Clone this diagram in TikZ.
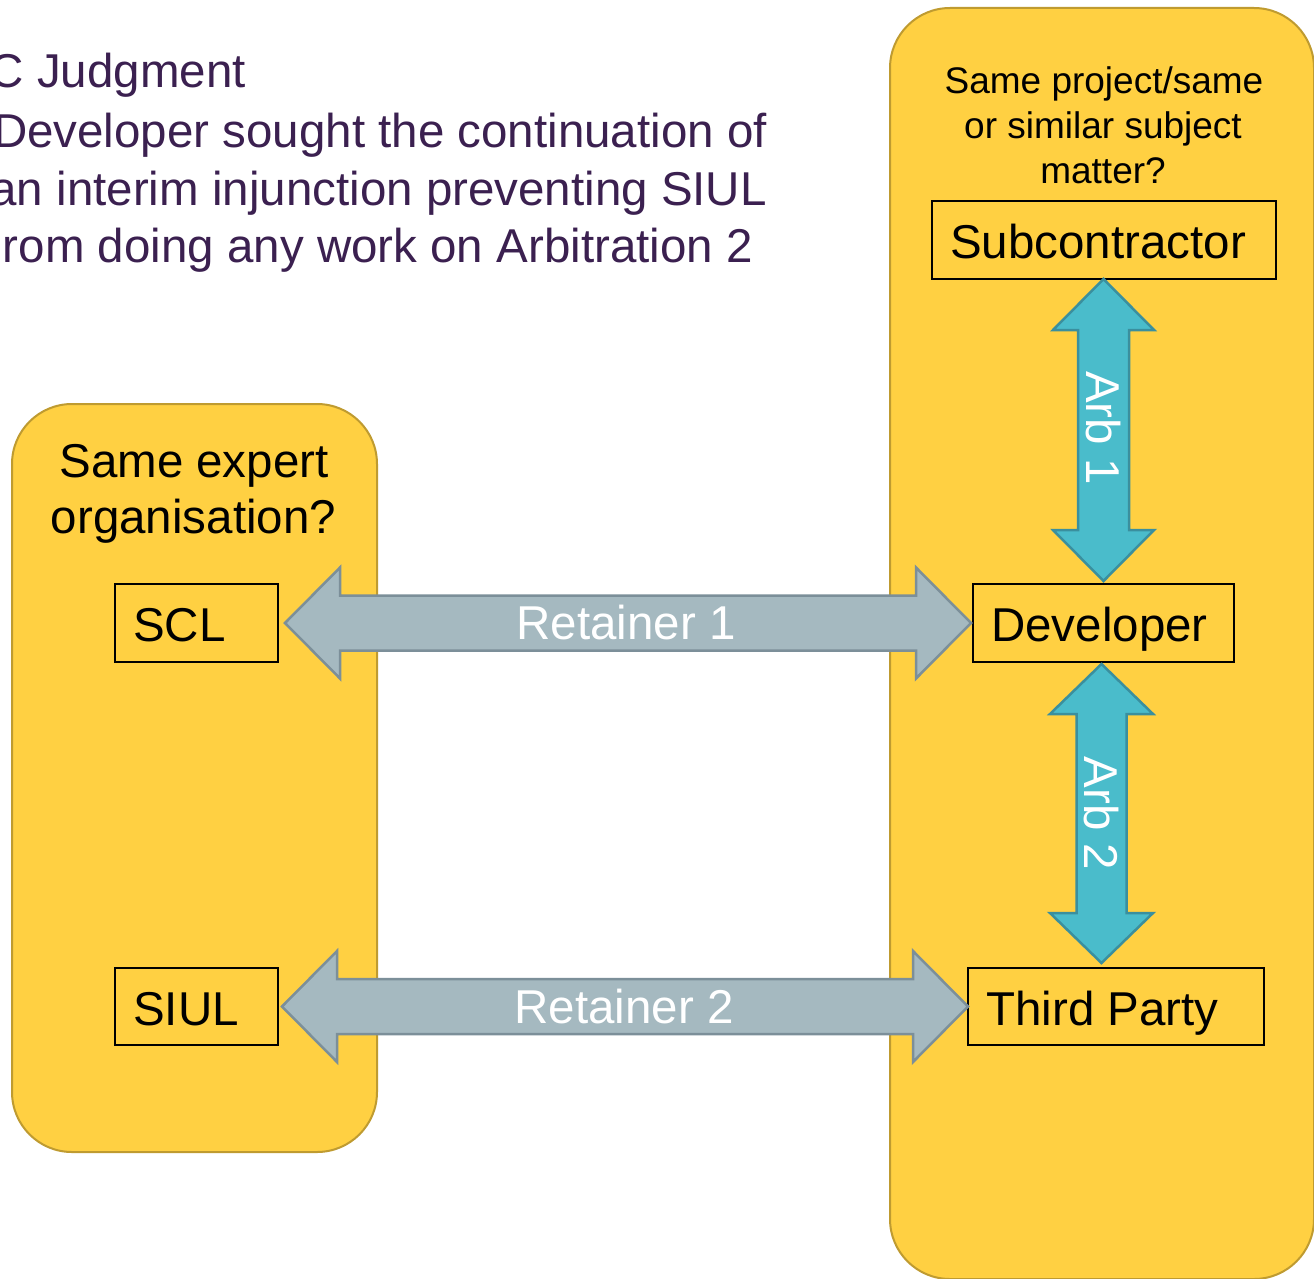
\documentclass[tikz,border=0pt]{standalone}
\usepackage{fontspec}
\setmainfont{Liberation Sans}
\usetikzlibrary{calc}
\definecolor{panelfill}{RGB}{255,208,66}
\definecolor{paneledge}{RGB}{191,155,48}
\definecolor{retfill}{RGB}{165,185,192}
\definecolor{retedge}{RGB}{124,143,153}
\definecolor{arbfill}{RGB}{74,188,203}
\definecolor{arbedge}{RGB}{58,143,158}
\definecolor{titlecol}{RGB}{59,32,80}
\begin{document}
\begin{tikzpicture}[x=1pt,y=-1pt,
  panel/.style={draw=paneledge, fill=panelfill, line width=2pt, rounded corners=60pt, rectangle, inner sep=0pt, anchor=north west},
  box/.style={draw=black, line width=2pt, rectangle, inner sep=0pt, anchor=north west, minimum height=78pt},
  lbl/.style={font=\fontsize{47.5}{57}\selectfont, text=black, inner sep=0pt},
  smalllbl/.style={font=\fontsize{37}{44.5}\selectfont, text=black, inner sep=0pt, anchor=base},
  titlelbl/.style={font=\fontsize{47.5}{58}\selectfont, text=titlecol, inner sep=0pt, anchor=base east},
  arrowtext/.style={font=\fontsize{47.5}{57}\selectfont, text=white, inner sep=0pt},
  retarrow/.style={draw=retedge, fill=retfill, line width=2.5pt, line join=miter},
  arbarrow/.style={draw=arbedge, fill=arbfill, line width=2.5pt, line join=miter}]
\useasboundingbox (0,0) rectangle (1314,1279);
\fill[white] (0,0) rectangle (1314,1279);

% title text (clipped at the left edge as in the reference)
\node[titlelbl] (t1) at (246,88) {C Judgment};
\node[titlelbl] (t2) at (767,147) {Developer sought the continuation of};
\node[titlelbl] (t3) at (767,205) {an interim injunction preventing SIUL};
\node[titlelbl] (t4) at (753,262) {rom doing any work on Arbitration 2};

% panels
\node[panel, minimum width=424pt, minimum height=1271pt] (rpanel) at (889,7) {};
\node[panel, minimum width=365pt, minimum height=748pt] (lpanel) at (11,403) {};

% panel captions
\node[smalllbl] (q1a) at (1104,94) {Same project/same};
\node[smalllbl] (q1b) at (1103,138.5) {or similar subject};
\node[smalllbl] (q1c) at (1103,183) {matter?};
\node[lbl, anchor=base] (q2a) at (194,477) {Same expert};
\node[lbl, anchor=base] (q2b) at (193.5,533) {organisation?};

% boxes
\node[box, minimum width=344pt] (sub) at (931,200) {};
\node[box, minimum width=261pt] (dev) at (972,583) {};
\node[box, minimum width=163pt] (scl) at (114,583) {};
\node[box, minimum width=163pt, minimum height=77pt] (siul) at (114,967) {};
\node[box, minimum width=296pt, minimum height=77pt] (tp) at (967,967) {};

\node[lbl, anchor=base west] (subl) at ($(sub.west)+(19,18.5)$) {Subcontractor};
\node[lbl, anchor=base west] (devl) at ($(dev.west)+(19,18.5)$) {Developer};
\node[lbl, anchor=base west] (scll) at ($(scl.west)+(19,18.5)$) {SCL};
\node[lbl, anchor=base west] (siull) at ($(siul.west)+(19,18.5)$) {SIUL};
\node[lbl, anchor=base west] (tpl) at ($(tp.west)+(19,18.5)$) {Third Party};

% Retainer 1
\coordinate (r1a) at ($(scl.east)+(6,0)$);
\coordinate (r1b) at ($(dev.west)+(-1,0)$);
\draw[retarrow] (r1a) -- ++(55,-55.5) -- ++(0,28) -- ($(r1b)+(-55,-27.5)$) -- ++(0,-28) -- (r1b)
  -- ++(-55,55.5) -- ++(0,-28) -- ($(r1a)+(55,27.5)$) -- ++(0,28) -- cycle;
\node[arrowtext] (r1t) at ($(r1a)!0.5!(r1b)+(-2,0)$) {Retainer 1};

% Retainer 2
\coordinate (r2a) at ($(siul.east)+(3,0)$);
\coordinate (r2b) at ($(tp.west)+(1,0)$);
\draw[retarrow] (r2a) -- ++(55,-55.5) -- ++(0,28) -- ($(r2b)+(-55,-27.5)$) -- ++(0,-28) -- (r2b)
  -- ++(-55,55.5) -- ++(0,-28) -- ($(r2a)+(55,27.5)$) -- ++(0,28) -- cycle;
\node[arrowtext] (r2t) at ($(r2a)!0.5!(r2b)+(-1,0)$) {Retainer 2};

% Arb 1
\coordinate (a1a) at ($(sub.south)+(-0.5,-1)$);
\coordinate (a1b) at ($(dev.north)+(0,-2)$);
\draw[arbarrow] (a1a) -- ++(50.5,51) -- ++(-25,0) -- ($(a1b)+(25.5,-51)$) -- ++(25,0) -- (a1b)
  -- ++(-50.5,-51) -- ++(25,0) -- ($(a1a)+(-25.5,51)$) -- ++(-25,0) -- cycle;
\node[arrowtext, rotate=-90] (a1t) at ($(a1a)!0.5!(a1b)+(0,-2)$) {Arb 1};

% Arb 2
\coordinate (a2a) at ($(dev.south)+(-2,1)$);
\coordinate (a2x) at (a2a |- tp.north);
\coordinate (a2b) at ($(a2x)+(0,-4)$);
\draw[arbarrow] (a2a) -- ++(51.5,50) -- ++(-26.5,0) -- ($(a2b)+(25,-50)$) -- ++(26.5,0) -- (a2b)
  -- ++(-51.5,-50) -- ++(26.5,0) -- ($(a2a)+(-25,50)$) -- ++(-26.5,0) -- cycle;
\node[arrowtext, rotate=-90] (a2t) at ($(a2a)!0.5!(a2b)+(0,0)$) {Arb 2};
\end{tikzpicture}
\end{document}
